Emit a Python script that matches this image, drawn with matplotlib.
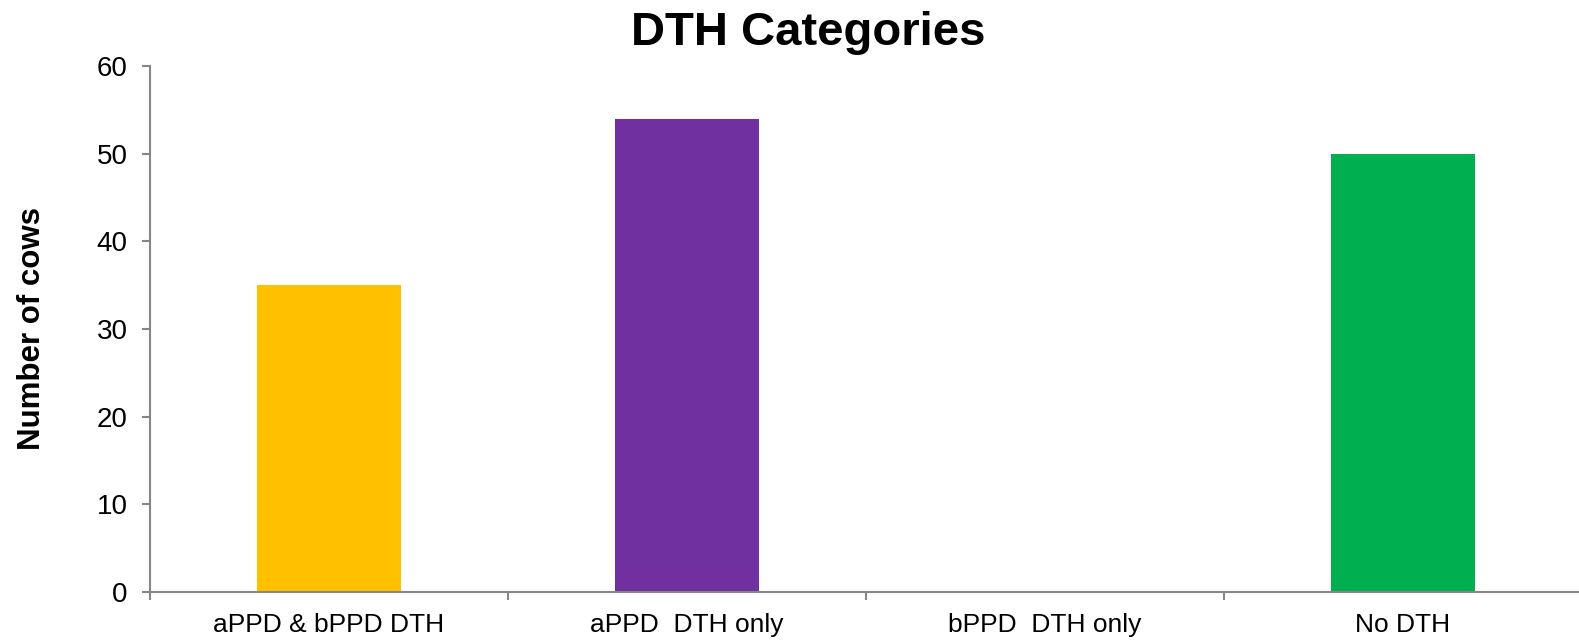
import matplotlib
matplotlib.use("Agg")
import matplotlib.pyplot as plt
from matplotlib.ticker import FixedLocator

categories = ["aPPD & bPPD DTH", "aPPD  DTH only", "bPPD  DTH only", "No DTH"]
values = [35, 54, 0, 50]
colors = ["#FFC000", "#7030A0", "#4472C4", "#00B050"]
yticks = [0, 10, 20, 30, 40, 50, 60]

plt.rcParams['font.family'] = ['Liberation Sans', 'DejaVu Sans']

W, H = 1579, 642
fig = plt.figure(figsize=(W / 100, H / 100), dpi=100)
left, right, bottom, top = 150, 1582, 592, 66
ax = fig.add_axes([left / W, (H - bottom) / H, (right - left) / W, (bottom - top) / H])

x = list(range(len(categories)))
ax.bar(x, values, width=0.40, color=colors, zorder=2)
ax.set_xlim(-0.5, len(categories) - 0.5)
ax.set_ylim(0, 60)
ax.set_yticks(yticks)
ax.set_xticks(x)
ax.set_xticklabels(categories)
ax.xaxis.set_minor_locator(FixedLocator([i - 0.5 for i in range(len(categories) + 1)]))

grey = "#868686"
for s in ["top", "right"]:
    ax.spines[s].set_visible(False)
for s in ["left", "bottom"]:
    ax.spines[s].set_color(grey)
    ax.spines[s].set_linewidth(1.5)

ax.tick_params(axis="y", length=6, width=1.5, color=grey, labelsize=20, pad=10)
ax.tick_params(axis="x", which="major", length=0, labelsize=19, pad=15)
ax.tick_params(axis="x", which="minor", length=6, width=1.5, color=grey)

ax.set_ylabel("Number of cows", fontsize=22.5, fontweight="bold")
ax.yaxis.set_label_coords(-(150 - 47) / (right - left), 0.5)
fig.text(808 / W, 1 - 33 / H, "DTH Categories", fontsize=34,
         fontweight="bold", ha="center", va="center")

fig.savefig("out.png", dpi=100)
